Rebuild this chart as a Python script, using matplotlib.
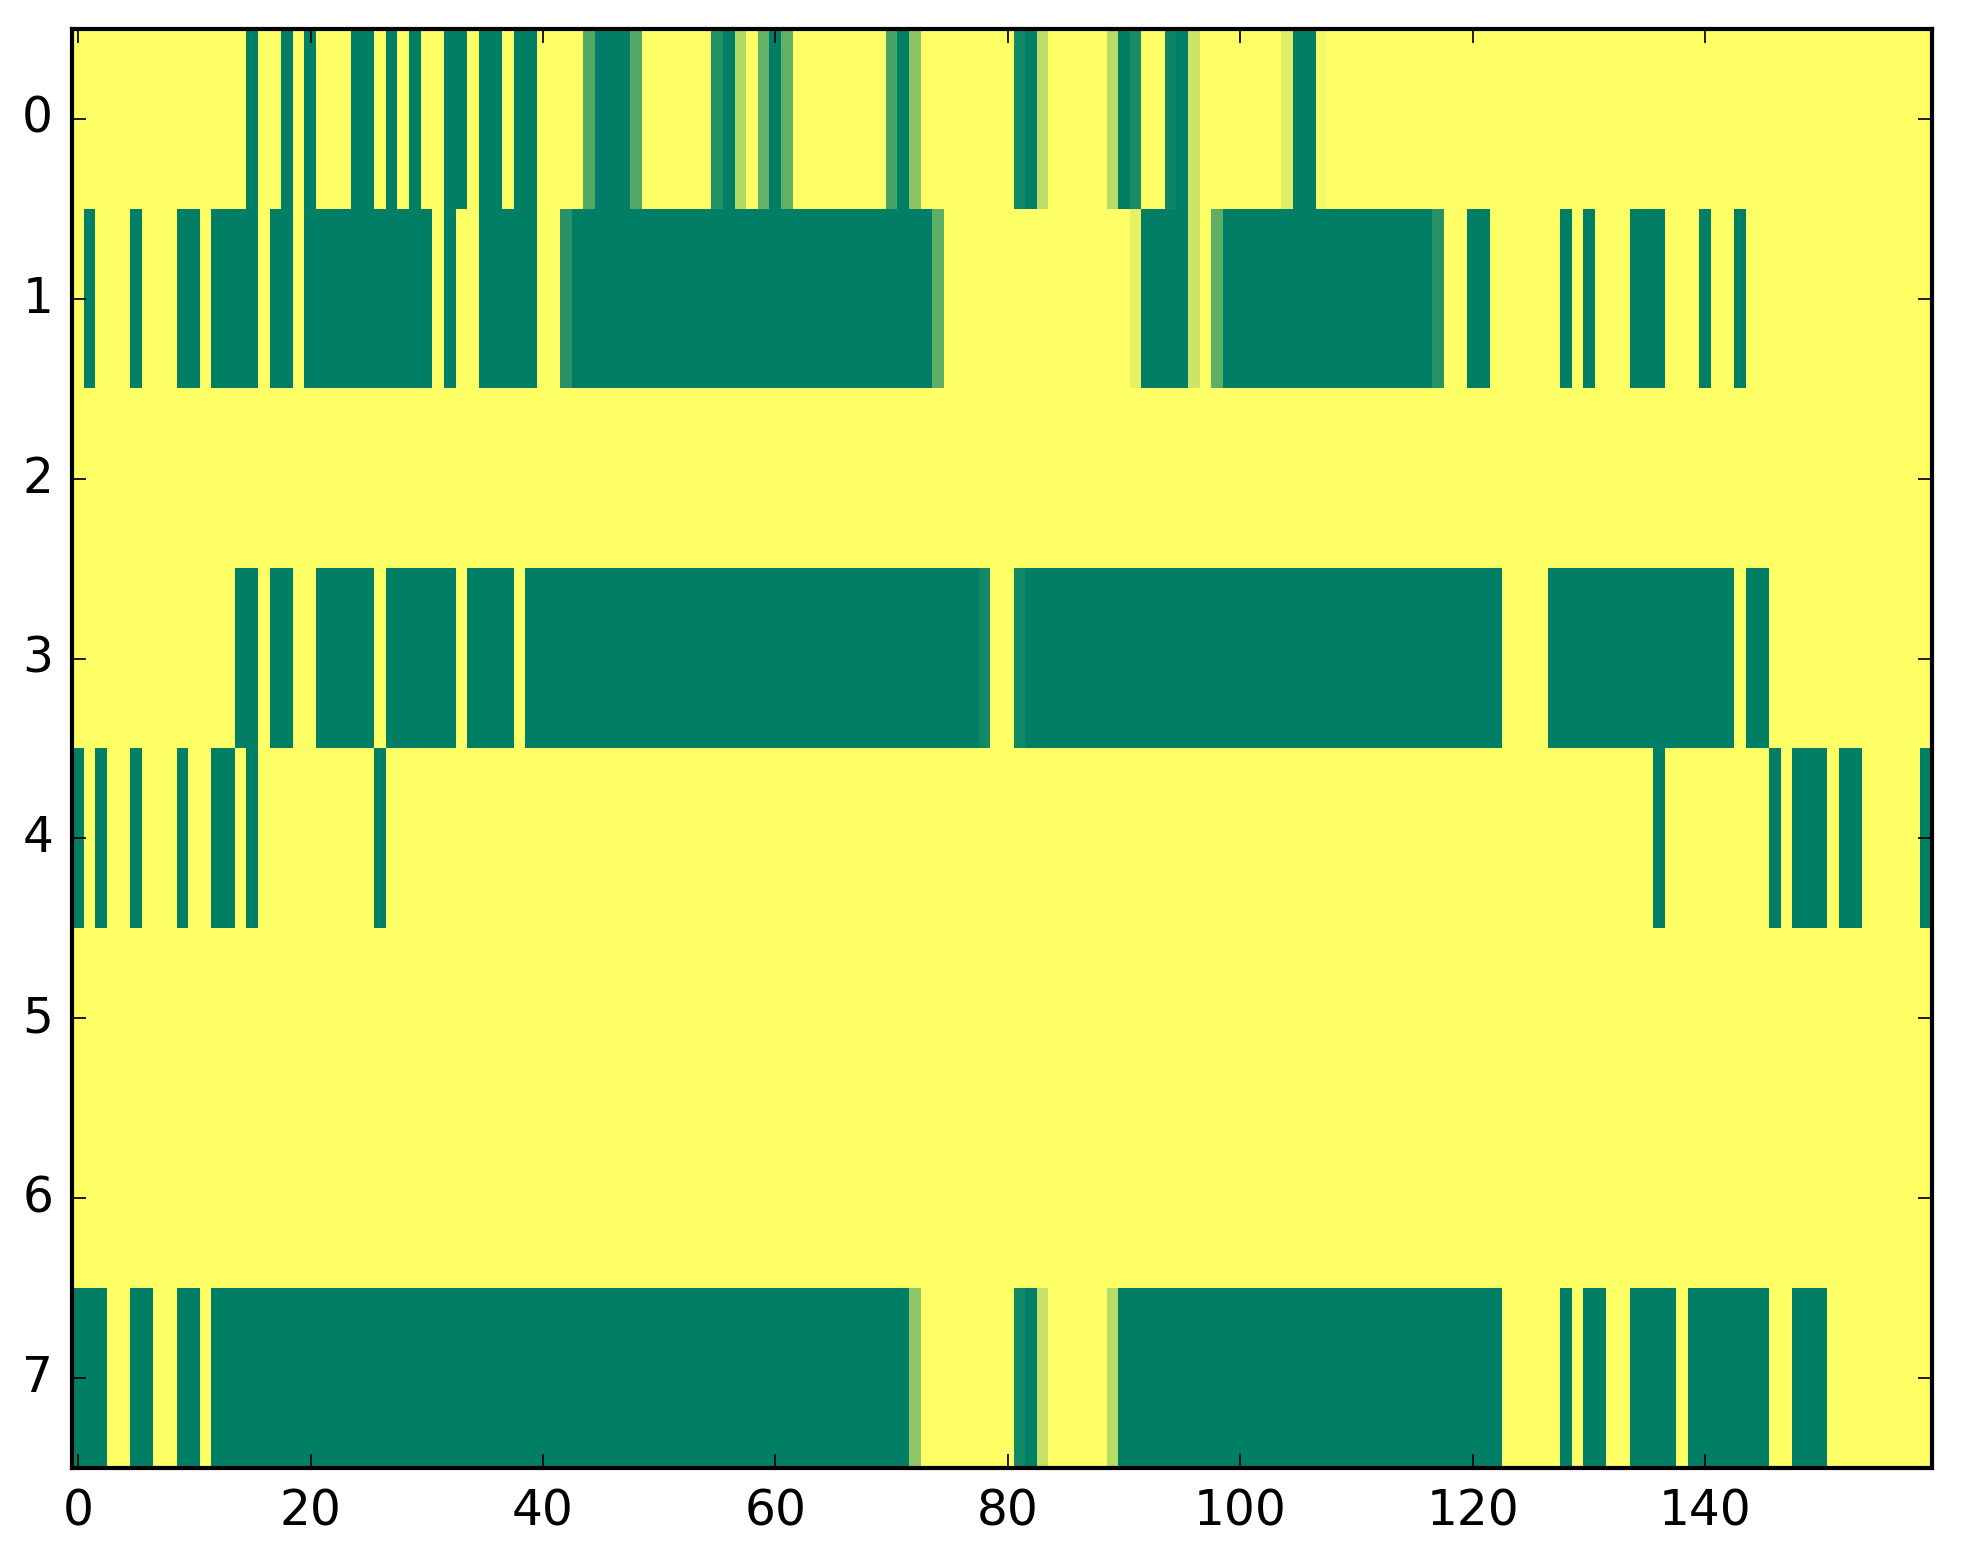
import matplotlib
matplotlib.use("Agg")
import matplotlib.pyplot as plt
import numpy as np

plt.style.use("classic")

row0 = [0, 0, 0, 0, 0, 0, 0, 0, 0, 0, 0, 0, 0, 0, 0, 1, 0, 0, 1, 0,
        1, 0, 0, 0, 1, 1, 0, 1, 0, 1, 0, 0, 1, 1, 0, 1, 1, 0, 1, 1,
        0, 0, 0, 0, .67, 1, 1, 1, .67, 0, 0, 0, 0, 0, 0, .87, 1, .3, 0, .6,
        1, .62, 0, 0, 0, 0, 0, 0, 0, 0, .72, 1, .45, 0, 0, 0, 0, 0, 0, 0,
        0, .92, 1, .25, 0, 0, 0, 0, 0, .28, 1, .9, 0, 0, .95, 1, .2, 0, 0, 0,
        0, 0, 0, 0, .13, 1, 1, .04, 0, 0, 0, 0, 0, 0, 0, 0, 0, 0, 0, 0,
        0, 0, 0, 0, 0, 0, 0, 0, 0, 0, 0, 0, 0, 0, 0, 0, 0, 0, 0, 0,
        0, 0, 0, 0, 0, 0, 0, 0, 0, 0, 0, 0, 0, 0, 0, 0, 0, 0, 0, 0]

row1 = [0, 1, 0, 0, 0, 1, 0, 0, 0, 1, 1, 0, 1, 1, 1, 1, 0, 1, 1, 0,
        1, 1, 1, 1, 1, 1, 1, 1, 1, 1, 1, 0, 1, 0, 0, 1, 1, 1, 1, 1,
        0, 0, .84, 1, 1, 1, 1, 1, 1, 1, 1, 1, 1, 1, 1, 1, 1, 1, 1, 1,
        1, 1, 1, 1, 1, 1, 1, 1, 1, 1, 1, 1, 1, 1, .63, 0, 0, 0, 0, 0,
        0, 0, 0, 0, 0, 0, 0, 0, 0, 0, 0, .1, 1, 1, 1, 1, .2, 0, .63, 1,
        1, 1, 1, 1, 1, 1, 1, 1, 1, 1, 1, 1, 1, 1, 1, 1, 1, .84, 0, 0,
        1, 1, 0, 0, 0, 0, 0, 0, 1, 0, 1, 0, 0, 0, 1, 1, 1, 0, 0, 0,
        1, 0, 0, 1, 0, 0, 0, 0, 0, 0, 0, 0, 0, 0, 0, 0, 0, 0, 0, 0]

row2 = [0, 0, 0, 0, 0, 0, 0, 0, 0, 0, 0, 0, 0, 0, 0, 0, 0, 0, 0, 0,
        0, 0, 0, 0, 0, 0, 0, 0, 0, 0, 0, 0, 0, 0, 0, 0, 0, 0, 0, 0,
        0, 0, 0, 0, 0, 0, 0, 0, 0, 0, 0, 0, 0, 0, 0, 0, 0, 0, 0, 0,
        0, 0, 0, 0, 0, 0, 0, 0, 0, 0, 0, 0, 0, 0, 0, 0, 0, 0, 0, 0,
        0, 0, 0, 0, 0, 0, 0, 0, 0, 0, 0, 0, 0, 0, 0, 0, 0, 0, 0, 0,
        0, 0, 0, 0, 0, 0, 0, 0, 0, 0, 0, 0, 0, 0, 0, 0, 0, 0, 0, 0,
        0, 0, 0, 0, 0, 0, 0, 0, 0, 0, 0, 0, 0, 0, 0, 0, 0, 0, 0, 0,
        0, 0, 0, 0, 0, 0, 0, 0, 0, 0, 0, 0, 0, 0, 0, 0, 0, 0, 0, 0]

row3 = [0, 0, 0, 0, 0, 0, 0, 0, 0, 0, 0, 0, 0, 0, 1, 1, 0, 1, 1, 0,
        0, 1, 1, 1, 1, 1, 0, 1, 1, 1, 1, 1, 1, 0, 1, 1, 1, 1, 0, 1,
        1, 1, 1, 1, 1, 1, 1, 1, 1, 1, 1, 1, 1, 1, 1, 1, 1, 1, 1, 1,
        1, 1, 1, 1, 1, 1, 1, 1, 1, 1, 1, 1, 1, 1, 1, 1, 1, 1, .92, 0,
        0, .92, 1, 1, 1, 1, 1, 1, 1, 1, 1, 1, 1, 1, 1, 1, 1, 1, 1, 1,
        1, 1, 1, 1, 1, 1, 1, 1, 1, 1, 1, 1, 1, 1, 1, 1, 1, 1, 1, 1,
        1, 1, 1, 0, 0, 0, 0, 1, 1, 1, 1, 1, 1, 1, 1, 1, 1, 1, 1, 1,
        1, 1, 1, 0, 1, 1, 0, 0, 0, 0, 0, 0, 0, 0, 0, 0, 0, 0, 0, 0]

row4 = [1, 0, 1, 0, 0, 1, 0, 0, 0, 1, 0, 0, 1, 1, 0, 1, 0, 0, 0, 0,
        0, 0, 0, 0, 0, 0, 1, 0, 0, 0, 0, 0, 0, 0, 0, 0, 0, 0, 0, 0,
        0, 0, 0, 0, 0, 0, 0, 0, 0, 0, 0, 0, 0, 0, 0, 0, 0, 0, 0, 0,
        0, 0, 0, 0, 0, 0, 0, 0, 0, 0, 0, 0, 0, 0, 0, 0, 0, 0, 0, 0,
        0, 0, 0, 0, 0, 0, 0, 0, 0, 0, 0, 0, 0, 0, 0, 0, 0, 0, 0, 0,
        0, 0, 0, 0, 0, 0, 0, 0, 0, 0, 0, 0, 0, 0, 0, 0, 0, 0, 0, 0,
        0, 0, 0, 0, 0, 0, 0, 0, 0, 0, 0, 0, 0, 0, 0, 0, 1, 0, 0, 0,
        0, 0, 0, 0, 0, 0, 1, 0, 1, 1, 1, 0, 1, 1, 0, 0, 0, 0, 0, 1]

row5 = [0, 0, 0, 0, 0, 0, 0, 0, 0, 0, 0, 0, 0, 0, 0, 0, 0, 0, 0, 0,
        0, 0, 0, 0, 0, 0, 0, 0, 0, 0, 0, 0, 0, 0, 0, 0, 0, 0, 0, 0,
        0, 0, 0, 0, 0, 0, 0, 0, 0, 0, 0, 0, 0, 0, 0, 0, 0, 0, 0, 0,
        0, 0, 0, 0, 0, 0, 0, 0, 0, 0, 0, 0, 0, 0, 0, 0, 0, 0, 0, 0,
        0, 0, 0, 0, 0, 0, 0, 0, 0, 0, 0, 0, 0, 0, 0, 0, 0, 0, 0, 0,
        0, 0, 0, 0, 0, 0, 0, 0, 0, 0, 0, 0, 0, 0, 0, 0, 0, 0, 0, 0,
        0, 0, 0, 0, 0, 0, 0, 0, 0, 0, 0, 0, 0, 0, 0, 0, 0, 0, 0, 0,
        0, 0, 0, 0, 0, 0, 0, 0, 0, 0, 0, 0, 0, 0, 0, 0, 0, 0, 0, 0]

row6 = [0, 0, 0, 0, 0, 0, 0, 0, 0, 0, 0, 0, 0, 0, 0, 0, 0, 0, 0, 0,
        0, 0, 0, 0, 0, 0, 0, 0, 0, 0, 0, 0, 0, 0, 0, 0, 0, 0, 0, 0,
        0, 0, 0, 0, 0, 0, 0, 0, 0, 0, 0, 0, 0, 0, 0, 0, 0, 0, 0, 0,
        0, 0, 0, 0, 0, 0, 0, 0, 0, 0, 0, 0, 0, 0, 0, 0, 0, 0, 0, 0,
        0, 0, 0, 0, 0, 0, 0, 0, 0, 0, 0, 0, 0, 0, 0, 0, 0, 0, 0, 0,
        0, 0, 0, 0, 0, 0, 0, 0, 0, 0, 0, 0, 0, 0, 0, 0, 0, 0, 0, 0,
        0, 0, 0, 0, 0, 0, 0, 0, 0, 0, 0, 0, 0, 0, 0, 0, 0, 0, 0, 0,
        0, 0, 0, 0, 0, 0, 0, 0, 0, 0, 0, 0, 0, 0, 0, 0, 0, 0, 0, 0]

row7 = [1, 1, 1, 0, 0, 1, 1, 0, 0, 1, 1, 0, 1, 1, 1, 1, 1, 1, 1, 1,
        1, 1, 1, 1, 1, 1, 1, 1, 1, 1, 1, 1, 1, 1, 1, 1, 1, 1, 1, 1,
        1, 1, 1, 1, 1, 1, 1, 1, 1, 1, 1, 1, 1, 1, 1, 1, 1, 1, 1, 1,
        1, 1, 1, 1, 1, 1, 1, 1, 1, 1, 1, 1, .44, 0, 0, 0, 0, 0, 0, 0,
        0, .92, 1, .23, 0, 0, 0, 0, 0, .28, 1, 1, 1, 1, 1, 1, 1, 1, 1, 1,
        1, 1, 1, 1, 1, 1, 1, 1, 1, 1, 1, 1, 1, 1, 1, 1, 1, 1, 1, 1,
        1, 1, 1, 0, 0, 0, 0, 0, 1, 0, 1, 1, 0, 0, 1, 1, 1, 1, 0, 1,
        1, 1, 1, 1, 1, 1, 0, 0, 1, 1, 1, 0, 0, 0, 0, 0, 0, 0, 0, 0]

rows = [row0, row1, row2, row3, row4, row5, row6, row7]
data = np.array(rows, dtype=float)

W, H, DPI = 1963, 1564, 250
fig = plt.figure(figsize=(W / DPI, H / DPI), dpi=DPI, facecolor="white")
ax = fig.add_axes([72.3 / W, 1 - 1468 / H, (1932 - 72.3) / W, (1468 - 29) / H])
ax.imshow(data, cmap="summer_r", vmin=0, vmax=1, aspect="auto",
          interpolation="nearest")
ax.set_xlim(-0.5, data.shape[1] - 0.5)
ax.set_ylim(data.shape[0] - 0.5, -0.5)
ax.set_xticks(np.arange(0, 160, 20))
ax.set_yticks(np.arange(0, 8, 1))
ax.tick_params(labelsize=14, pad=5.5)
for sp in ax.spines.values():
    sp.set_linewidth(1.2)

fig.savefig("out.png", dpi=DPI, facecolor="white")
